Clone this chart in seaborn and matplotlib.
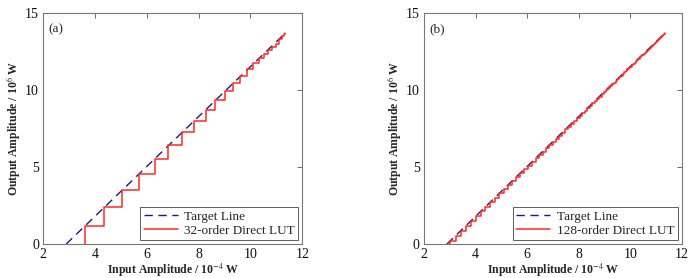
import matplotlib
matplotlib.use('Agg')
import matplotlib.pyplot as plt
import seaborn as sns
import pandas as pd

# target line (both panels)
target_x = [2.89, 11.35]
target_y = [0.0, 13.71]

# 32-order direct LUT: step positions / levels
lut32_x = [3.61, 3.61, 4.34, 5.05, 5.69, 6.30, 6.83, 7.34, 7.82, 8.27, 8.63, 9.00,
           9.32, 9.59, 9.88, 10.11, 10.33, 10.52, 10.69, 10.84, 10.98, 11.10,
           11.21, 11.30, 11.35]
lut32_y = [0.0, 1.19, 2.40, 3.52, 4.56, 5.55, 6.41, 7.26, 8.01, 8.70, 9.35, 9.94,
           10.48, 10.91, 11.34, 11.73, 12.05, 12.33, 12.59, 12.81, 13.02, 13.30,
           13.48, 13.62, 13.71]

# 128-order direct LUT
lut128_x = [3.01, 3.01, 3.23, 3.42, 3.63, 3.81, 4.01, 4.20, 4.38, 4.56, 4.74, 4.92,
            5.09, 5.26, 5.42, 5.58, 5.74, 5.89, 6.04, 6.19, 6.33, 6.47, 6.60,
            6.73, 6.86, 6.99, 7.12, 7.24, 7.36, 7.48, 7.60, 7.71, 7.82, 7.93,
            8.04, 8.14, 8.24, 8.34, 8.44, 8.53, 8.62, 8.71, 8.80, 8.89, 8.97,
            9.05, 9.13, 9.21, 9.29, 9.36, 9.43, 9.50, 9.57, 9.64, 9.71, 9.77,
            9.83, 9.89, 9.95, 10.01, 10.07, 10.12, 10.17, 10.22, 10.27, 10.32,
            10.37, 10.42, 10.47, 10.52, 10.56, 10.60, 10.64, 10.68, 10.72, 10.76,
            10.80, 10.84, 10.88, 10.92, 10.96, 11.00, 11.04, 11.08, 11.12, 11.16,
            11.20, 11.24, 11.28, 11.32, 11.35]
lut128_y = [0.0, 0.19, 0.55, 0.86, 1.20, 1.49, 1.81, 2.12, 2.41, 2.71, 3.00, 3.29,
            3.56, 3.84, 4.10, 4.36, 4.62, 4.86, 5.10, 5.35, 5.57, 5.80, 6.01,
            6.22, 6.43, 6.64, 6.85, 7.05, 7.24, 7.44, 7.63, 7.81, 7.99, 8.16,
            8.34, 8.51, 8.67, 8.83, 8.99, 9.14, 9.28, 9.43, 9.57, 9.72, 9.85,
            9.98, 10.11, 10.24, 10.37, 10.48, 10.59, 10.71, 10.82, 10.94, 11.05, 11.15,
            11.24, 11.34, 11.44, 11.53, 11.63, 11.71, 11.79, 11.87, 11.96, 12.04,
            12.12, 12.20, 12.28, 12.36, 12.43, 12.49, 12.56, 12.62, 12.68, 12.75,
            12.81, 12.88, 12.94, 13.01, 13.07, 13.14, 13.20, 13.27, 13.33, 13.40,
            13.46, 13.53, 13.59, 13.66, 13.71]

panels = [
    ('(a)', '32-order Direct LUT', lut32_x, lut32_y, [0.062, 0.122, 0.373, 0.831]),
    ('(b)', '128-order Direct LUT', lut128_x, lut128_y, [0.610, 0.122, 0.371, 0.831]),
]

sns.set_style('white')
plt.rcParams['font.family'] = ['Liberation Serif', 'DejaVu Serif']
plt.rcParams['mathtext.fontset'] = 'stix'

fig = plt.figure(figsize=(6.95, 2.78), dpi=100)

for tag, name, lx, ly, pos in panels:
    ax = fig.add_axes(pos)
    target = pd.DataFrame({'x': target_x, 'y': target_y})
    lut = pd.DataFrame({'x': lx, 'y': ly})
    sns.lineplot(data=target, x='x', y='y', ax=ax, color='#1a1a80', lw=1.0,
                 linestyle=(0, (6, 4)), label='Target Line',
                 estimator=None, sort=False)
    sns.lineplot(data=lut, x='x', y='y', ax=ax, color='#ff2a2a', lw=1.1,
                 drawstyle='steps-post', label=name, estimator=None, sort=False)
    ax.set_xlim(2, 12)
    ax.set_ylim(0, 15)
    ax.set_xticks([2, 4, 6, 8, 10, 12])
    ax.set_yticks([0, 5, 10, 15])
    ax.tick_params(direction='in', top=True, right=True, length=3.5, width=0.6,
                   color='#555555', labelcolor='#111111', labelsize=10, pad=3)
    for s in ax.spines.values():
        s.set_color('#777777')
        s.set_linewidth(0.8)
    ax.set_xlabel(r'Input Amplitude / 10$^{-4}$ W', fontweight='bold', fontsize=8.5, labelpad=0)
    ax.set_ylabel(r'Output Amplitude / 10$^{6}$ W', fontweight='bold', fontsize=8.5, labelpad=2)
    ax.text(0.022, 0.955, tag, transform=ax.transAxes, fontsize=9.5, va='top', ha='left')
    leg = ax.legend(loc='lower right', fontsize=9.5, handlelength=2.6, frameon=True,
                    fancybox=False, borderaxespad=0.3, borderpad=0.25,
                    labelspacing=0.15, handletextpad=0.5)
    leg.get_frame().set_edgecolor('#333333')
    leg.get_frame().set_linewidth(0.7)

fig.savefig('out.png', dpi=100)
